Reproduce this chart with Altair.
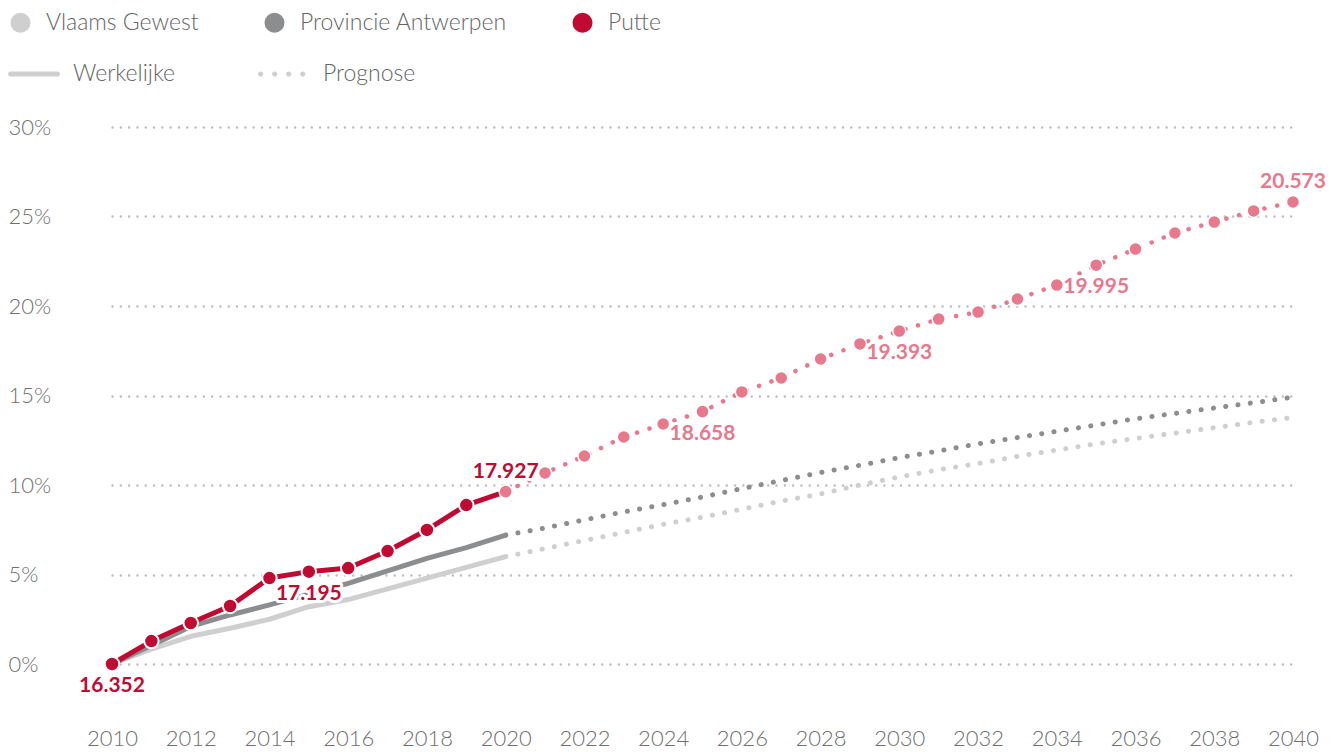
import altair as alt
import pandas as pd

years = list(range(2010, 2041))
putte = [0, 1.28, 2.29, 3.24, 4.80, 5.16, 5.36, 6.31, 7.49, 8.88, 9.63,
         10.67, 11.62, 12.68, 13.41, 14.10, 15.20, 15.98, 17.04, 17.88, 18.60,
         19.27, 19.66, 20.39, 21.17, 22.28, 23.18, 24.08, 24.69, 25.31, 25.81]
antwerpen = [0, 1.03, 2.10, 2.74, 3.30, 3.90, 4.50, 5.20, 5.90, 6.50, 7.20,
             7.60, 8.05, 8.50, 8.90, 9.33, 9.80, 10.25, 10.70, 11.10, 11.53,
             11.90, 12.30, 12.65, 13.00, 13.35, 13.70, 14.00, 14.30, 14.60, 14.90]
vlaams = [0, 0.83, 1.55, 2.00, 2.50, 3.20, 3.60, 4.20, 4.80, 5.40, 6.00,
          6.45, 6.90, 7.35, 7.80, 8.20, 8.65, 9.10, 9.50, 10.00, 10.45,
          10.85, 11.20, 11.60, 11.95, 12.30, 12.60, 12.90, 13.20, 13.50, 13.77]
series_names = ["Vlaams Gewest", "Provincie Antwerpen", "Putte"]
kinds = ["Werkelijke", "Prognose"]
last_actual = 2020

label_years = [2010, 2015, 2020, 2025, 2030, 2035, 2040]
label_texts = ["16.352", "17.195", "17.927", "18.658", "19.393", "19.995", "20.573"]

RED = "#c10a31"
PINK = "#e8788c"
GREY = "#8c8d8f"
LIGHT = "#cfcfcf"
TXT = "#707070"
FONT = "Lato"
series_colors = [LIGHT, GREY, RED]

rows = []
for name, vals in zip(series_names, [vlaams, antwerpen, putte]):
    for yr, v in zip(years, vals):
        rows.append({"series": name, "year": yr, "value": v})
df = pd.DataFrame(rows)
actual = df[df.year <= last_actual].copy()
actual["kind"] = kinds[0]
forecast = df[df.year >= last_actual].copy()
forecast["kind"] = kinds[1]

pv = dict(zip(years, putte))
labels = pd.DataFrame({"year": label_years, "text": label_texts,
                       "value": [pv[y] for y in label_years]})

color_scale = alt.Scale(domain=series_names, range=series_colors)

x = alt.X("year:Q",
          scale=alt.Scale(domain=[2010, 2040], nice=False, zero=False),
          axis=alt.Axis(values=list(range(2010, 2041, 2)), format="d", grid=False,
                        domain=False, ticks=False, labelPadding=64, labelFontSize=22,
                        labelFlush=False, labelOverlap=False,
                        labelColor=TXT, labelFont=FONT, labelFontWeight=300, title=None))
y = alt.Y("value:Q",
          scale=alt.Scale(domain=[0, 30], nice=False),
          axis=alt.Axis(values=[0, 5, 10, 15, 20, 25, 30], labelExpr="datum.value + '%'",
                        grid=True, gridDash=[0.1, 8.2], gridWidth=2.4, gridCap="round",
                        gridColor="#bdbdbd", domain=False, ticks=False,
                        labelAlign="left", labelPadding=104, labelFontSize=22,
                        labelColor=TXT, labelFont=FONT, labelFontWeight=300, title=None))


def series_line(data, name, color, dashed, width=5.0, dash=12.3):
    kw = dict(strokeWidth=width, strokeCap="round", strokeJoin="round", color=color)
    if dashed:
        kw["strokeDash"] = [0.1, dash]
    return alt.Chart(data).transform_filter(f"datum.series == '{name}'").mark_line(
        **kw).encode(x=x, y=y, order="year:Q")


lines = [
    series_line(actual, series_names[0], LIGHT, False),
    series_line(actual, series_names[1], GREY, False),
    series_line(forecast, series_names[0], LIGHT, True),
    series_line(forecast, series_names[1], GREY, True),
    series_line(actual, series_names[2], RED, False),
    series_line(forecast, series_names[2], PINK, True, width=4.5, dash=13),
]

red_points = alt.Chart(actual).transform_filter(
    f"datum.series == 'Putte' && datum.year < {last_actual}").mark_circle(
    size=210, opacity=1, stroke="white", strokeWidth=2).encode(
    x=x, y=y,
    color=alt.Color("series:N", scale=color_scale,
                    legend=alt.Legend(title=None, orient="none", legendX=-104, legendY=-117,
                                      direction="horizontal", symbolType="circle",
                                      symbolSize=400, symbolStrokeWidth=0,
                                      labelFontSize=23, labelFont=FONT, labelFontWeight=300,
                                      labelColor="#666", labelOffset=14, columnPadding=64,
                                      labelLimit=400, padding=1)))

pink_points = alt.Chart(forecast).transform_filter("datum.series == 'Putte'").mark_circle(
    size=170, opacity=1, color=PINK, stroke="white", strokeWidth=1.5).encode(x=x, y=y)

line_path = ("M-0.9,-0.1 L0.9,-0.1 A0.1,0.1 0 0 1 0.9,0.1 L-0.9,0.1 "
             "A0.1,0.1 0 0 1 -0.9,-0.1 Z")
dot_path = " ".join(
    f"M{cx - 0.1:.3f},0 A0.1,0.1 0 1 0 {cx + 0.1:.3f},0 A0.1,0.1 0 1 0 {cx - 0.1:.3f},0 Z"
    for cx in [-0.9, -0.36, 0.18, 0.72])

dash_legend = alt.Chart(actual).transform_filter("false").mark_point(
    filled=True, opacity=1, color=LIGHT).encode(
    x=x, y=y,
    shape=alt.Shape("kind:N",
                    scale=alt.Scale(domain=kinds, range=[line_path, dot_path]),
                    legend=alt.Legend(title=None, orient="none", legendX=-104, legendY=-79,
                                      direction="horizontal", symbolSize=2704,
                                      symbolFillColor=LIGHT, symbolStrokeWidth=0,
                                      labelFontSize=23, labelFont=FONT, labelFontWeight=300,
                                      labelColor="#666", labelOffset=13, columnPadding=82,
                                      labelLimit=400)))

lab = alt.Chart(labels).transform_calculate(
    tc=f"datum.year <= {last_actual} ? '{RED}' : '{PINK}'")
above_f = "datum.year == 2020 || datum.year == 2040"
below_f = "!(datum.year == 2020 || datum.year == 2040)"


def text_layer(filt, dy, halo):
    base = lab.transform_filter(filt)
    if halo:
        m = base.mark_text(dy=dy, fontSize=21, font=FONT, fontWeight="bold",
                           color="white", stroke="white", strokeWidth=6, strokeJoin="round")
        return m.encode(x=x, y=y, text="text:N")
    m = base.mark_text(dy=dy, fontSize=21, font=FONT, fontWeight="bold")
    return m.encode(x=x, y=y, text="text:N", color=alt.Color("tc:N", scale=None))


chart = alt.layer(
    *lines,
    text_layer(below_f, 22, True), text_layer(above_f, -20, True),
    red_points, pink_points,
    text_layer(below_f, 22, False), text_layer(above_f, -20, False),
    dash_legend,
).properties(width=1181, height=537,
             padding={"top": 2, "left": 0, "right": 0, "bottom": 0}).configure(
    font=FONT, view=alt.ViewConfig(stroke=None))

chart.save("out.html", embed_options={"renderer": "svg", "actions": False})
